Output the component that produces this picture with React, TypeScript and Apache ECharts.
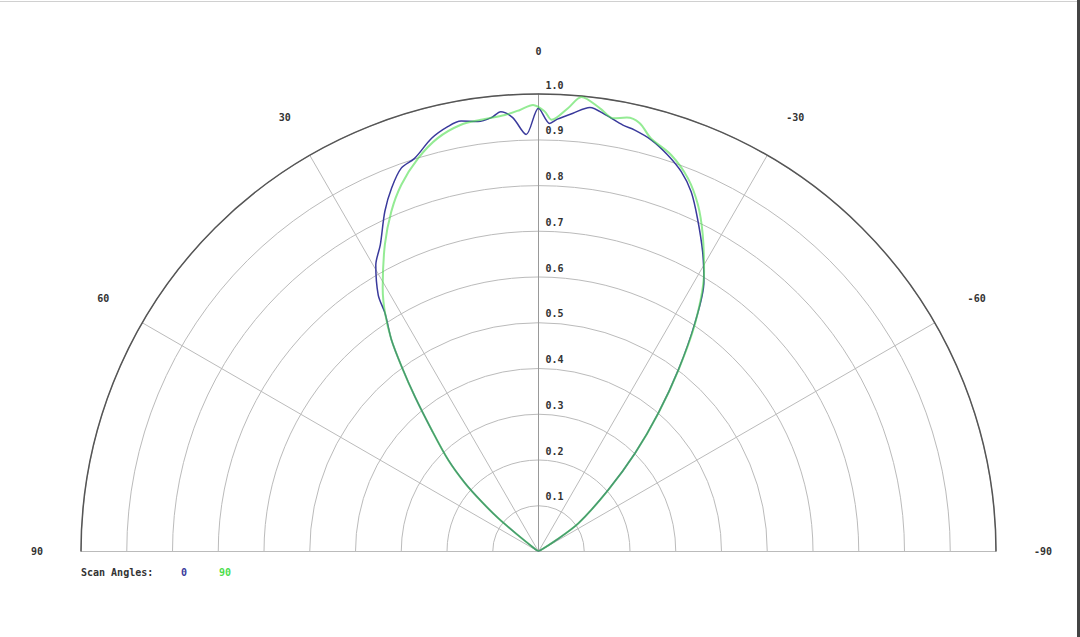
import { useEffect, useRef } from "react";
import * as echarts from "echarts";

// scan angle 0 (blue) — beam angle in degrees, normalised amplitude
const scan0Angles = [
  -90, -70, -60, -57.5, -54.7, -48.6, -44.5, -40.9, -37.6, -34.4, -31.5, -28.7,
  -25.5, -23, -20.6, -18, -15.3, -12.8, -11.2, -8.8, -6.6, -4.5, -2.5, -1.5, 0,
  1.7, 3.4, 4.9, 6.2, 8, 10.2, 12, 14.5, 17.5, 19.7, 22, 24.3, 27.3, 29.6, 32,
  32.8, 34.8, 36.5, 38.6, 41.3, 44.6, 47.1, 48.8, 50.4, 51.5, 53, 56, 70, 90,
];
const scan0Values = [
  0, 0, 0, 0.04, 0.107, 0.203, 0.301, 0.4, 0.501, 0.605, 0.692, 0.747,
  0.807, 0.854, 0.887, 0.912, 0.933, 0.945, 0.95, 0.965, 0.977, 0.961, 0.946, 0.936, 0.969,
  0.912, 0.95, 0.965, 0.954, 0.949, 0.956, 0.95, 0.933, 0.901, 0.89, 0.857, 0.816, 0.754, 0.72, 0.661,
  0.619, 0.563, 0.503, 0.433, 0.354, 0.281, 0.219, 0.165, 0.114, 0.057, 0.015, 0, 0, 0,
];

// scan angle 90 (green)
const scan90Angles = [
  -90, -70, -60, -57.5, -54.7, -48.6, -44.5, -40.9, -37.6, -34.4, -30.6, -27.4,
  -24.7, -21.8, -18.5, -15.2, -13.3, -11.5, -9.8, -7.9, -5.4, -3.8, -1.75, -0.8,
  0.7, 2.4, 4.4, 7.6, 10.3, 13.7, 17, 20.5, 23.4, 26.6, 30.6, 32.8, 34.8, 36.5,
  38.6, 41.3, 44.6, 47.1, 48.8, 50.4, 51.5, 53, 56, 70, 90,
];
const scan90Values = [
  0, 0, 0, 0.04, 0.107, 0.203, 0.301, 0.4, 0.502, 0.607, 0.711, 0.78,
  0.834, 0.879, 0.914, 0.936, 0.962, 0.968, 0.961, 0.978, 0.998, 0.971, 0.944, 0.962,
  0.976, 0.966, 0.957, 0.952, 0.948, 0.93, 0.899, 0.856, 0.81, 0.75, 0.669, 0.619, 0.563, 0.503,
  0.433, 0.354, 0.281, 0.219, 0.165, 0.114, 0.057, 0.015, 0, 0, 0,
];

const scanNames = ["0", "90"];
const scanColors = ["#3a3a9c", "#4ddd4d"];

const MONO = "'DejaVu Sans Mono', monospace";

export default function App() {
  const chartRef = useRef<HTMLDivElement>(null);

  useEffect(() => {
    const chart = echarts.init(chartRef.current, null, { renderer: "svg" });
    const center = [538.5, 551.5];
    const radius = 457.5;
    chart.setOption({
      animation: false,
      backgroundColor: "#fff",
      title: {
        text: "Scan Angles:",
        left: 81,
        top: 567,
        padding: 0,
        textStyle: { fontFamily: MONO, fontSize: 10, fontWeight: "bold", color: "#333" },
      },
      legend: {
        left: 176,
        top: 567,
        padding: 0,
        icon: "none",
        itemWidth: 0,
        itemHeight: 10,
        itemGap: 27,
        selectedMode: false,
        data: scanNames.map((n, i) => ({
          name: n,
          textStyle: { color: scanColors[i] },
        })),
        textStyle: { fontFamily: MONO, fontSize: 10, fontWeight: "bold" },
      },
      // thin frame of the original screenshot (top and right edges)
      graphic: [
        {
          type: "line",
          shape: { x1: 0, y1: 1.5, x2: 1077, y2: 1.5 },
          style: { stroke: "#d0d0d0", lineWidth: 1 },
          silent: true,
        },
        {
          type: "rect",
          shape: { x: 1077, y: 0, width: 3, height: 637 },
          style: { fill: "#444" },
          silent: true,
        },
      ],
      polar: [
        { center, radius },
        { center, radius },
      ],
      angleAxis: [
        {
          polarIndex: 0,
          type: "value",
          min: -90,
          max: 90,
          interval: 30,
          startAngle: 0,
          endAngle: 180,
          clockwise: false,
          axisLine: { lineStyle: { color: "#555", width: 1.5 } },
          axisTick: { show: false },
          splitLine: { lineStyle: { color: "#bbb", width: 1 } },
          axisLabel: {
            margin: 38,
            fontFamily: MONO,
            fontSize: 10,
            fontWeight: "bold",
            color: "#333",
          },
        },
        {
          polarIndex: 1,
          type: "value",
          min: 0,
          max: 360,
          startAngle: 90,
          show: false,
        },
      ],
      radiusAxis: [
        {
          polarIndex: 0,
          type: "value",
          min: 0,
          max: 1,
          interval: 0.1,
          axisLine: { show: false },
          axisTick: { show: false },
          axisLabel: { show: false },
          splitLine: { lineStyle: { color: "#bbb", width: 1 } },
        },
        {
          polarIndex: 1,
          type: "value",
          min: 0,
          max: 1,
          interval: 0.1,
          axisLine: { lineStyle: { color: "#999", width: 1 } },
          axisTick: { show: false },
          splitLine: { show: false },
          axisLabel: {
            margin: -7,
            align: "left",
            verticalAlign: "bottom",
            padding: [0, 0, 4, 0],
            fontFamily: MONO,
            fontSize: 10,
            fontWeight: "bold",
            color: "#333",
            formatter: (v: number) => (v === 0 ? "" : v.toFixed(1)),
          },
        },
      ],
      series: [
        {
          name: scanNames[0],
          type: "line",
          coordinateSystem: "polar",
          polarIndex: 0,
          showSymbol: false,
          smooth: 0.3,
          data: scan0Angles.map((a, i) => [scan0Values[i], a]),
          lineStyle: { color: scanColors[0], width: 1.5 },
          itemStyle: { color: scanColors[0] },
          z: 3,
        },
        {
          name: scanNames[1],
          type: "line",
          coordinateSystem: "polar",
          polarIndex: 0,
          showSymbol: false,
          smooth: 0.3,
          data: scan90Angles.map((a, i) => [scan90Values[i], a]),
          lineStyle: { color: scanColors[1], width: 2, opacity: 0.6 },
          itemStyle: { color: scanColors[1] },
          z: 4,
        },
      ],
    });
    return () => {
      chart.dispose();
    };
  }, []);

  return (
    <div
      ref={chartRef}
      style={{ position: "fixed", left: 0, top: 0, width: 1080, height: 637 }}
    />
  );
}
